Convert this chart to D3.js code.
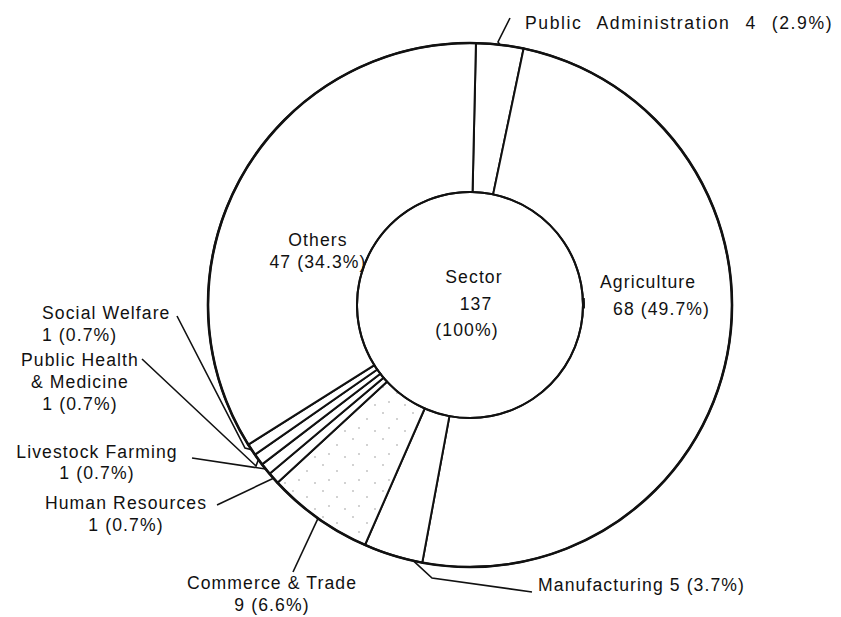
<!DOCTYPE html>
<meta charset="utf-8">
<script src="https://cdn.jsdelivr.net/npm/d3@7"></script>
<style>
body { margin: 0; background: #fff; }
text {
  font-family: "Liberation Sans", Arial, sans-serif;
  font-size: 17.6px;
  letter-spacing: 1.1px;
  fill: #111;
}
</style>
<body>
<script>

// data
var sectors = ["Public Administration", "Agriculture", "Manufacturing", "Commerce & Trade",
               "Human Resources", "Livestock Farming", "Public Health & Medicine",
               "Social Welfare", "Others"];
var counts = [4, 68, 5, 9, 1, 1, 1, 1, 47];
var shares = ["2.9%", "49.7%", "3.7%", "6.6%", "0.7%", "0.7%", "0.7%", "0.7%", "34.3%"];
var total = 137;

var width = 841,
    height = 617,
    cx = 470,
    cy = 305,
    rOuter = 262,
    rInner = 113;

var data = sectors.map(function(s, i) {
  return {name: s, value: counts[i], share: shares[i]};
});

// label placement (layout only); "at" = where along the slice the leader meets the rim
var layout = {
  "Public Administration": {lines: ["Public Administration 4 (2.9%)"], x: 525, y: 29, anchor: "start", ws: 8.5, ls: 1.6,
                            leader: [[510, 18], [498, 42]]},
  "Agriculture": {lines: ["Agriculture", "68 (49.7%)"], x: [600, 613], y: 288, anchor: "start", dy: 27},
  "Manufacturing": {lines: ["Manufacturing 5 (3.7%)"], x: 538, y: 591, anchor: "start",
                    leader: [[532, 592], [432, 578]], at: 0.15},
  "Commerce & Trade": {lines: ["Commerce & Trade", "9 (6.6%)"], x: 272, y: 589, anchor: "middle", dy: 22,
                       leader: [[293, 572]]},
  "Human Resources": {lines: ["Human Resources", "1 (0.7%)"], x: 126, y: 509, anchor: "middle", dy: 22,
                      leader: [[217, 505]]},
  "Livestock Farming": {lines: ["Livestock Farming", "1 (0.7%)"], x: 97, y: 458, anchor: "middle", dy: 21,
                        leader: [[192, 458]]},
  "Public Health & Medicine": {lines: ["Public Health", "& Medicine", "1 (0.7%)"], x: 80, y: 366, anchor: "middle", dy: 22,
                               leader: [[142, 359], [256, 466]]},
  "Social Welfare": {lines: ["Social Welfare", "1 (0.7%)"], x: 42, y: 319, anchor: "start", dy: 22,
                     leader: [[177, 316], [245, 448]]},
  "Others": {lines: ["Others", "47 (34.3%)"], x: 318, y: 246, anchor: "middle", dy: 22}
};

var svg = d3.select("body").append("svg")
    .attr("width", width)
    .attr("height", height);

// sparse stipple for commerce & trade
var defs = svg.append("defs");
var pat = defs.append("pattern")
    .attr("id", "stipple")
    .attr("patternUnits", "userSpaceOnUse")
    .attr("width", 30)
    .attr("height", 26);
pat.append("rect").attr("width", 30).attr("height", 26).attr("fill", "#fff");
[[3, 4], [17, 10], [9, 19], [25, 22]].forEach(function(p) {
  pat.append("circle").attr("cx", p[0]).attr("cy", p[1]).attr("r", 0.8).attr("fill", "#999");
});

var g = svg.append("g")
    .attr("transform", "translate(" + cx + "," + cy + ")");

var off = 1.3 * Math.PI / 180;

var pie = d3.pie()
    .sort(null)
    .value(function(d) { return d.value; })
    .startAngle(off)
    .endAngle(off + 2 * Math.PI);

var arc = d3.arc()
    .innerRadius(rInner)
    .outerRadius(rOuter);

var arcs = pie(data);

g.selectAll("path.slice")
    .data(arcs)
    .enter().append("path")
    .attr("class", "slice")
    .attr("d", arc)
    .attr("fill", function(d) { return d.data.name == "Commerce & Trade" ? "url(#stipple)" : "#fff"; })
    .attr("stroke", "#111")
    .attr("stroke-width", 2)
    .attr("stroke-linejoin", "round");

// outer and inner rings drawn a touch heavier
g.append("circle").attr("r", rOuter).attr("fill", "none").attr("stroke", "#111").attr("stroke-width", 2.6);
g.append("circle").attr("r", rInner).attr("fill", "none").attr("stroke", "#111").attr("stroke-width", 2);

// tiny pointer mark on the inner ring for agriculture
var tick = d3.arc().innerRadius(rInner - 1).outerRadius(rInner + 2)
    .startAngle(Math.PI / 2 - 0.06).endAngle(Math.PI / 2 + 0.03);
g.append("path").attr("d", tick()).attr("fill", "#111");

function rim(d, r, f) {
  var a = d.startAngle + (d.endAngle - d.startAngle) * (f == null ? 0.5 : f);
  return [cx + r * Math.sin(a), cy - r * Math.cos(a)];
}

// leader lines
var line = d3.line();
arcs.forEach(function(d) {
  var L = layout[d.data.name];
  if (!L || !L.leader) return;
  var pts = L.leader.concat([rim(d, rOuter, L.at)]);
  svg.append("path")
      .attr("d", line(pts))
      .attr("fill", "none")
      .attr("stroke", "#111")
      .attr("stroke-width", 1.6);
});

// labels
arcs.forEach(function(d) {
  var L = layout[d.data.name];
  var t = svg.append("text").attr("text-anchor", L.anchor);
  if (L.ws) t.style("word-spacing", L.ws + "px");
  if (L.ls) t.style("letter-spacing", L.ls + "px");
  L.lines.forEach(function(s, i) {
    t.append("tspan")
        .attr("x", Array.isArray(L.x) ? L.x[i] : L.x)
        .attr("y", L.y + i * (L.dy || 0))
        .text(s);
  });
});

// centre total
var centre = svg.append("text").attr("text-anchor", "middle");
["Sector", String(total), "(100%)"].forEach(function(s, i) {
  centre.append("tspan")
      .attr("x", [474, 476, 467][i])
      .attr("y", 283 + i * 26.5)
      .text(s);
});

</script>
</body>
